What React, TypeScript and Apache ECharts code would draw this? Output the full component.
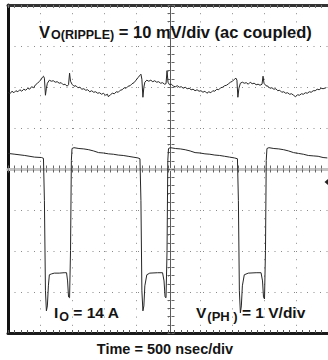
import { useEffect, useRef } from "react";
import * as echarts from "echarts";

const FONT = "'Liberation Sans', Arial, Helvetica, sans-serif";

// Scope settings
const timeMaxNs = 5000; // 10 div x 500 ns
const timePerDivNs = 500;
const yDivMin = -4;
const yDivMax = 4;
const rippleMvPerDiv = 10;
const rippleOffsetDiv = 1.97;
const phaseVoltsPerDiv = 1;
const phaseOffsetDiv = 0;

// Output ripple (ac coupled), time in ns, value in mV
const rippleT = [0,31,62,92,123,154,185,215,246,277,308,338,369,400,431,462,492,515,538,554,569,585,600,615,646,677,708,738,769,800,831,862,892,923,946,962,977,1000,1031,1062,1092,1123,1154,1185,1215,1246,1277,1308,1338,1369,1400,1431,1462,1492,1523,1554,1569,1600,1631,1662,1692,1723,1754,1785,1815,1846,1877,1908,1938,1969,2000,2031,2062,2077,2092,2108,2123,2138,2169,2200,2231,2262,2292,2323,2354,2385,2415,2446,2469,2485,2500,2523,2554,2585,2615,2646,2677,2708,2738,2769,2800,2831,2862,2892,2923,2954,2985,3015,3046,3077,3108,3138,3169,3200,3231,3262,3292,3323,3354,3385,3415,3446,3477,3508,3538,3562,3577,3592,3608,3631,3662,3692,3723,3754,3785,3815,3846,3877,3908,3938,3969,3985,4000,4031,4062,4092,4123,4154,4185,4215,4246,4277,4308,4338,4369,4400,4431,4462,4492,4523,4554,4585,4615,4646,4677,4708,4738,4769,4800,4831,4862,4892,4923,4970];
const rippleMv = [-0.98,-1.35,-0.73,-1.10,-0.61,-0.86,-0.37,-0.73,-0.24,-0.49,0,-0.24,0.37,0.12,0.86,1.22,1.71,2.08,2.69,2.94,2.45,-1.71,0,1.22,1.96,1.71,1.83,1.47,1.59,1.22,1.35,0.86,0.98,0.49,0.86,3.67,1.71,0.98,0.49,0.61,0.12,0.24,-0.24,-0.12,-0.49,-0.37,-0.86,-0.61,-0.98,-0.86,-1.22,-1.10,-1.47,-1.22,-1.71,-1.47,-2.08,-1.59,-1.22,-1.35,-0.86,-0.98,-0.49,-0.37,0.12,0,0.49,0.61,1.10,1.35,1.96,2.57,3.18,3.42,2.20,-2.20,0.24,1.47,1.96,1.71,1.96,1.59,1.83,1.47,1.59,1.22,1.35,0.98,1.10,4.28,1.47,0.86,0.98,0.49,0.37,0.61,0.24,0.37,0,0.24,-0.12,0,-0.37,-0.24,-0.61,-0.37,-0.73,-0.61,-0.98,-0.73,-1.22,-0.86,-1.10,-0.61,-0.73,-0.24,-0.37,0.12,0.24,0.61,0.73,1.10,1.47,1.71,2.20,2.45,1.96,-2.20,0,1.22,1.47,1.22,1.35,0.98,1.47,1.10,1.22,0.86,0.98,0.73,0.98,2.94,1.22,0.61,0.49,0,0.12,-0.24,-0.12,-0.61,-0.49,-0.98,-0.86,-1.22,-1.10,-1.47,-1.35,-1.71,-2.08,-1.59,-1.71,-1.35,-1.47,-1.10,-1.22,-0.86,-0.98,-0.61,-0.61,-0.24,-0.37,0,-0.12,0.12];

// Phase node V(PH), time in ns, value in V (1 V/div, 0 at centre line)
const phaseT = [0,108,262,415,523,554,569,585,600,615,631,646,677,723,800,877,915,931,946,962,977,990,1000,1031,1108,1185,1262,1338,1415,1492,1569,1646,1723,1800,1877,1954,2031,2062,2077,2092,2108,2123,2138,2169,2215,2338,2415,2438,2454,2469,2485,2497,2508,2538,2615,2692,2769,2846,2923,3000,3077,3154,3231,3308,3385,3462,3538,3585,3600,3615,3631,3646,3662,3692,3754,3877,3954,3977,3992,4008,4023,4035,4046,4077,4154,4231,4308,4385,4462,4538,4615,4692,4769,4846,4923,4990];
const phaseV = [0.38,0.36,0.33,0.29,0.28,0.26,-0.77,-2.97,-3.46,-3.34,-2.85,-2.58,-2.56,-2.54,-2.54,-2.53,-2.53,-2.73,-3.12,-3.14,-1.99,0.21,0.50,0.52,0.50,0.49,0.47,0.44,0.40,0.39,0.37,0.36,0.34,0.33,0.31,0.29,0.27,0.25,-0.77,-2.97,-3.46,-3.34,-2.85,-2.58,-2.54,-2.53,-2.53,-2.73,-3.12,-3.14,-1.99,0.21,0.50,0.52,0.50,0.49,0.47,0.44,0.40,0.39,0.37,0.36,0.34,0.33,0.31,0.29,0.27,0.25,-0.77,-2.97,-3.51,-3.34,-2.85,-2.58,-2.54,-2.53,-2.53,-2.73,-3.12,-3.17,-1.99,0.21,0.50,0.52,0.50,0.49,0.47,0.44,0.40,0.38,0.36,0.33,0.32,0.31,0.28,0.27];

// Text pieces: [main, subscript, rest]
const rippleLabel = ["V", "O(RIPPLE)", " = 10 mV/div (ac coupled)"];
const currentLabel = ["I", "O", " = 14 A"];
const phaseLabel = ["V", "(PH )", " = 1 V/div"];
const timeLabel = "Time = 500 nsec/div";

const INK = "#141414";
const TRACE = "#262626";

function richText(parts: string[], mainSize: number, subSize: number, subPad: number) {
  return {
    text: `{m|${parts[0]}}{s|${parts[1]}}{m|${parts[2]}}`,
    rich: {
      m: { fontSize: mainSize, fontWeight: "bold", fontFamily: FONT, fill: INK, lineHeight: 22 },
      s: { fontSize: subSize, fontWeight: "bold", fontFamily: FONT, fill: INK, lineHeight: 22, padding: [subPad, 0, 0, 1] },
    },
  };
}

export default function App() {
  const ref = useRef<HTMLDivElement>(null);
  useEffect(() => {
    if (!ref.current) return;
    const chart = echarts.init(ref.current, undefined, { renderer: "svg" });
    const ripple = rippleT.slice(0, Math.min(rippleT.length, rippleMv.length)).map((t, i) => [t, rippleOffsetDiv + rippleMv[i] / rippleMvPerDiv]);
    const phase = phaseT.slice(0, Math.min(phaseT.length, phaseV.length)).map((t, i) => [t, phaseOffsetDiv + phaseV[i] / phaseVoltsPerDiv]);

    const hiddenLabel = { show: false };
    const xBase = { type: "value", min: 0, max: timeMaxNs, interval: timePerDivNs, axisLabel: hiddenLabel };
    const yBase = { type: "value", min: yDivMin, max: yDivMax, interval: 1, axisLabel: hiddenLabel };

    chart.setOption({
      animation: false,
      backgroundColor: "#ffffff",
      grid: [
        { left: 8, right: -5, top: 5, bottom: 27 },
        { left: 8, right: -5, top: 168.5, height: 1 },
        { left: 170.5, width: 1, top: 5, bottom: 27 },
      ],
      xAxis: [
        {
          ...xBase, gridIndex: 0, position: "bottom",
          axisLine: { show: true, onZero: false, lineStyle: { color: "#1a1a1a", width: 3 } },
          axisTick: { show: true, inside: true, length: 3, lineStyle: { color: "#555", width: 1 } },
          minorTick: { show: true, splitNumber: 5, length: 3, lineStyle: { color: "#555", width: 1 } },
          splitLine: { show: true, lineStyle: { color: "#8a8a8a", width: 1, type: [1, 7.2] } },
        },
        {
          ...xBase, gridIndex: 0, position: "top",
          axisLine: { show: true, onZero: false, lineStyle: { color: "#333", width: 3 } },
          axisTick: { show: true, inside: true, length: 3, lineStyle: { color: "#777", width: 1 } },
          minorTick: { show: true, splitNumber: 5, length: 3, lineStyle: { color: "#777", width: 1 } },
          splitLine: { show: false },
        },
        {
          ...xBase, gridIndex: 1, position: "bottom",
          axisLine: { show: true, onZero: false, lineStyle: { color: "#c4c4c4", width: 3 } },
          axisTick: { show: true, inside: false, length: 3, lineStyle: { color: "#666", width: 1 } },
          minorTick: { show: true, splitNumber: 5, length: 3, lineStyle: { color: "#666", width: 1 } },
          splitLine: { show: false },
        },
        {
          ...xBase, gridIndex: 1, position: "top",
          axisLine: { show: false, onZero: false },
          axisTick: { show: true, inside: false, length: 3, lineStyle: { color: "#666", width: 1 } },
          minorTick: { show: true, splitNumber: 5, length: 3, lineStyle: { color: "#666", width: 1 } },
          splitLine: { show: false },
        },
        { type: "value", gridIndex: 2, min: 0, max: 1, show: false },
      ],
      yAxis: [
        {
          ...yBase, gridIndex: 0, position: "left",
          axisLine: { show: true, onZero: false, lineStyle: { color: "#111", width: 3 } },
          axisTick: { show: false },
          splitLine: { show: true, lineStyle: { color: "#8a8a8a", width: 1, type: [1, 5.5] } },
        },
        { type: "value", gridIndex: 1, min: 0, max: 1, show: false },
        {
          ...yBase, gridIndex: 2, position: "left",
          axisLine: { show: true, onZero: false, lineStyle: { color: "#5a5a5a", width: 1 } },
          axisTick: { show: true, inside: false, length: 3, lineStyle: { color: "#666", width: 1 } },
          minorTick: { show: true, splitNumber: 5, length: 3, lineStyle: { color: "#666", width: 1 } },
          splitLine: { show: false },
        },
        {
          ...yBase, gridIndex: 2, position: "right",
          axisLine: { show: false, onZero: false },
          axisTick: { show: true, inside: false, length: 3, lineStyle: { color: "#666", width: 1 } },
          minorTick: { show: true, splitNumber: 5, length: 3, lineStyle: { color: "#666", width: 1 } },
          splitLine: { show: false },
        },
      ],
      series: [
        {
          type: "line", name: "VO(RIPPLE)", xAxisIndex: 0, yAxisIndex: 0, data: ripple,
          symbol: "none", lineStyle: { color: TRACE, width: 1 }, z: 5,
        },
        {
          type: "line", name: "V(PH)", xAxisIndex: 0, yAxisIndex: 0, data: phase,
          symbol: "none", lineStyle: { color: TRACE, width: 1 }, z: 5,
        },
      ],
      graphic: [
        {
          type: "text", x: 39, y: 31.5, z: 10,
          style: { ...richText(rippleLabel, 16.5, 12.5, 6), align: "left", verticalAlign: "middle" },
        },
        {
          type: "text", x: 54, y: 312.5, z: 10,
          style: { ...richText(currentLabel, 15.5, 12.5, 9), align: "left", verticalAlign: "middle" },
        },
        {
          type: "text", x: 196, y: 312.5, z: 10,
          style: { ...richText(phaseLabel, 15.5, 13, 8), align: "left", verticalAlign: "middle" },
        },
        {
          type: "text", x: 165, y: 348.5, z: 10,
          style: { text: timeLabel, fontSize: 14.5, fontWeight: "bold", fontFamily: FONT, fill: INK, align: "center", verticalAlign: "middle" },
        },
        {
          type: "polygon", z: 10,
          shape: { points: [[324.5, 182], [328, 179], [328, 185]] },
          style: { fill: "#222" },
        },
      ],
    });
    return () => chart.dispose();
  }, []);
  return <div ref={ref} style={{ position: "fixed", left: 0, top: 0, width: 328, height: 360 }} />;
}
